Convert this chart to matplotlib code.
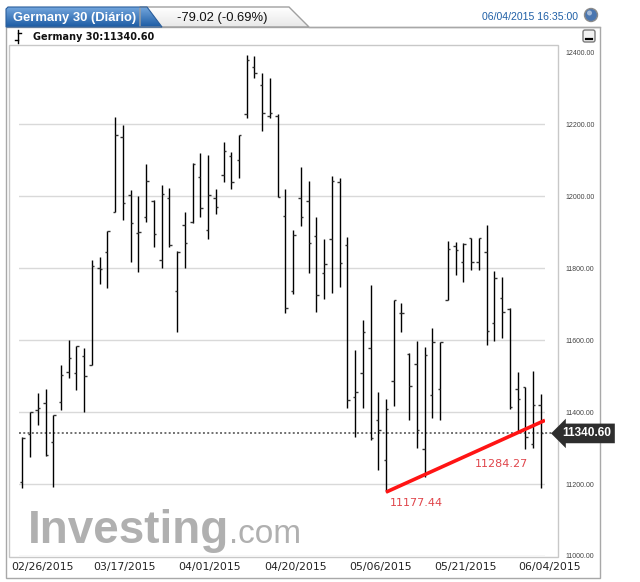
import matplotlib
matplotlib.use('Agg')
import matplotlib.pyplot as plt
import matplotlib.patches as mpatches
import matplotlib.transforms as mtransforms
from matplotlib import font_manager
import numpy as np

# daily OHLC, Germany 30
dates = ['02/26/2015', '02/27/2015', '03/02/2015', '03/03/2015', '03/04/2015', '03/05/2015',
         '03/06/2015', '03/09/2015', '03/10/2015', '03/11/2015', '03/12/2015', '03/13/2015',
         '03/16/2015', '03/17/2015', '03/18/2015', '03/19/2015', '03/20/2015', '03/23/2015',
         '03/24/2015', '03/25/2015', '03/26/2015', '03/27/2015', '03/30/2015', '03/31/2015',
         '04/01/2015', '04/02/2015', '04/07/2015', '04/08/2015', '04/09/2015', '04/10/2015',
         '04/13/2015', '04/14/2015', '04/15/2015', '04/16/2015', '04/17/2015', '04/20/2015',
         '04/21/2015', '04/22/2015', '04/23/2015', '04/24/2015', '04/27/2015', '04/28/2015',
         '04/29/2015', '04/30/2015', '05/04/2015', '05/05/2015', '05/06/2015', '05/07/2015',
         '05/08/2015', '05/11/2015', '05/12/2015', '05/13/2015', '05/14/2015', '05/15/2015',
         '05/18/2015', '05/19/2015', '05/20/2015', '05/21/2015', '05/22/2015', '05/25/2015',
         '05/26/2015', '05/27/2015', '05/28/2015', '05/29/2015', '06/01/2015', '06/02/2015',
         '06/03/2015', '06/04/2015']
opens = [11206, 11338, 11407, 11424, 11316, 11427, 11512, 11509, 11556, 11531, 11799, 11845,
         11957, 12165, 12003, 11898, 11943, 11987, 11822, 11996, 11736, 11921, 11929, 12054,
         11906, 11994, 12058, 12111, 12100, 12228, 12359, 12308, 12222, 12222, 11944, 11737,
         11996, 11987, 11888, 11786, 11882, 12038, 11865, 11441, 11508, 11577, 11377, 11268,
         11485, 11675, 11561, 11533, 11298, 11448, 11465, 11710, 11860, 11817, 11883, 11817,
         11844, 11647, 11717, 11687, 11465, 11469, 11310, 11420]
highs = [11330, 11401, 11454, 11464, 11392, 11532, 11600, 11584, 11577, 11822, 11830, 11904,
         12220, 12197, 12017, 12001, 12089, 11989, 12031, 12023, 11848, 11955, 12091, 12120,
         12114, 12019, 12149, 12123, 12169, 12392, 12389, 12341, 12327, 12228, 12019, 11905,
         12081, 12043, 11942, 11882, 12055, 12050, 11886, 11571, 11657, 11752, 11456, 11437,
         11712, 11703, 11564, 11598, 11581, 11633, 11594, 11874, 11872, 11869, 11883, 11883,
         11920, 11791, 11774, 11689, 11511, 11469, 11515, 11450]
lows = [11188, 11276, 11364, 11278, 11193, 11407, 11495, 11461, 11401, 11531, 11756, 11745,
        11957, 11933, 11816, 11788, 11927, 11859, 11799, 11859, 11621, 11801, 11926, 11943,
        11882, 11949, 12038, 12019, 12049, 12216, 12329, 12181, 12216, 11998, 11675, 11728,
        11916, 11786, 11677, 11714, 11731, 11747, 11411, 11331, 11411, 11323, 11240, 11177.44,
        11416, 11621, 11379, 11301, 11219, 11383, 11379, 11710, 11782, 11760, 11794, 11794,
        11587, 11596, 11607, 11409, 11346, 11297, 11300, 11189]
closes = [11327, 11401, 11410, 11281, 11392, 11503, 11551, 11584, 11500, 11807, 11797, 11904,
          12170, 11982, 11924, 11899, 12042, 11896, 12007, 11864, 11845, 11869, 12089, 11968,
          12003, 11969, 12125, 12038, 12169, 12378, 12341, 12230, 12232, 11998, 11689, 11893,
          11942, 11869, 11724, 11812, 12041, 11814, 11434, 11455, 11621, 11328, 11351, 11408,
          11710, 11675, 11473, 11351, 11559, 11594, 11594, 11854, 11851, 11867, 11817, 11883,
          11626, 11772, 11678, 11414, 11436, 11330, 11419.62, 11340.60]

trend_idx = [47, 58]
trend_vals = [11177.44, 11284.27]
last_price = 11340.60
yticks = [11000, 11200, 11400, 11600, 11800, 12000, 12200, 12400]
date_ticks = [0, 13, 24, 35, 46, 57, 67]

W, H = 640, 582
fig = plt.figure(figsize=(6.4, 5.82), dpi=100)

names = {f.name for f in font_manager.fontManager.ttflist}
narrow = 'Liberation Sans Narrow' if 'Liberation Sans Narrow' in names else 'Liberation Sans'
nscale = 1.0 if narrow == 'Liberation Sans Narrow' else 0.85

# background layer in pixel coords
bg = fig.add_axes([0, 0, 1, 1])
bg.set_xlim(0, W)
bg.set_ylim(H, 0)
bg.axis('off')

bg.add_patch(mpatches.Rectangle((6, 27), 594, 551, fc='white', ec='#a8a8a8', lw=1))
bg.add_patch(mpatches.Rectangle((9, 45), 549, 512, fc='white', ec='#c8c8c8', lw=1))

# soft shading along left / top of plot area
pw, ph = 526, 510
xs = np.arange(pw)
ys = np.arange(ph)
alpha = 0.13 * np.maximum(np.exp(-xs / 4.0)[None, :], np.exp(-ys / 6.0)[:, None])
shade = np.zeros((ph, pw, 4))
shade[..., :3] = 0.55
shade[..., 3] = alpha
bg.imshow(shade, extent=[19, 545, 556, 46], aspect='auto', interpolation='bilinear')

# tabs
grad = np.linspace(0, 1, 50)[:, None]
gray_tab = mpatches.Polygon([(140, 27), (140, 7), (289, 7), (309, 27)], closed=True,
                            fc='none', ec='#a0a0a0', lw=1)
bg.add_patch(gray_tab)
im = bg.imshow(np.dstack([1 - 0.09 * grad, 1 - 0.09 * grad, 1 - 0.09 * grad]),
               extent=[140, 309, 27, 7], aspect='auto')
im.set_clip_path(gray_tab)
blue_tab = mpatches.Polygon([(6, 27), (6, 9), (8, 7), (147, 7), (162, 27)], closed=True,
                            fc='none', ec='#2a5e9c', lw=0.8)
bg.add_patch(blue_tab)
top_c = np.array([0.45, 0.65, 0.87])
bot_c = np.array([0.11, 0.36, 0.64])
blue = top_c[None, None, :] * (1 - grad[..., None]) + bot_c[None, None, :] * grad[..., None]
im2 = bg.imshow(blue, extent=[6, 162, 27, 7], aspect='auto')
im2.set_clip_path(blue_tab)
bg.plot([309, 600], [27, 27], color='#a8a8a8', lw=1)

bg.text(13, 17.5, 'Germany 30 (Diário)', color='white', fontsize=11 * nscale,
        family=narrow, weight='bold', ha='left', va='center')
bg.text(177, 17.5, '-79.02 (-0.69%)', color='#111111', fontsize=11 * nscale,
        family=narrow, ha='left', va='center')
bg.text(578, 17, '06/04/2015 16:35:00', color='#1f5fa6', fontsize=7.6,
        family='Liberation Sans', ha='right', va='center')
bg.add_patch(mpatches.Circle((591, 15), 6.5, fc='#4a76b0', ec='#8a8a8a', lw=1))
bg.add_patch(mpatches.Circle((589.5, 13), 2.5, fc='white', ec='none', alpha=0.5))

# second row
bg.plot([18, 18], [30, 43], color='black', lw=1)
bg.plot([15, 18], [40, 40], color='black', lw=1)
bg.plot([18, 21], [33, 33], color='black', lw=1)
bg.text(33, 37, 'Germany 30:11340.60', fontsize=7, weight='bold', family='DejaVu Sans',
        color='#111111', ha='left', va='center')
bg.add_patch(mpatches.FancyBboxPatch((583, 30), 12, 12, boxstyle='round,pad=0,rounding_size=2',
                                     fc='#f2f2f2', ec='#7a7a7a', lw=1))
bg.plot([586, 592], [38.5, 38.5], color='black', lw=1.6)

# watermark
bg.text(28, 543, 'Investing', fontsize=33, weight='bold', family='Liberation Sans',
        color='#b0b0b0', ha='left', va='baseline')
bg.text(229, 543, '.com', fontsize=24, family='Liberation Sans',
        color='#b0b0b0', ha='left', va='baseline')

# price panel
ax = fig.add_axes([19 / W, 1 - 556 / H, 526 / W, 510 / H])
ax.patch.set_visible(False)
for s in ax.spines.values():
    s.set_visible(False)

idx = np.arange(len(opens))
ax.vlines(idx, lows, highs, color='black', lw=1.0, zorder=3)
ax.hlines(opens, idx - 0.32, idx, color='#333333', lw=1.0, zorder=3)
ax.hlines(closes, idx, idx + 0.32, color='#333333', lw=1.0, zorder=3)

xl = (-0.43, 67.55)
ax.set_xlim(xl)
ax.set_ylim(11000, 12417)

ax.axhline(last_price, xmin=0, xmax=1.015, color='#707070', ls=(0, (1, 1.2)), lw=1.4,
           clip_on=False, zorder=2)

slope = (trend_vals[1] - trend_vals[0]) / (trend_idx[1] - trend_idx[0])
ax.plot([trend_idx[0], xl[1]], [trend_vals[0], trend_vals[0] + slope * (xl[1] - trend_idx[0])],
        color='#ff1414', lw=2.6, solid_capstyle='butt', zorder=4)
for i, v in zip(trend_idx, trend_vals):
    ax.annotate(f'{v:.2f}', xy=(i, v), xytext=(2.5, -4), textcoords='offset points',
                ha='left', va='top', color='#e0454b', fontsize=8, family='DejaVu Sans')

blend = mtransforms.blended_transform_factory(ax.transAxes, ax.transData)
ax.text(1 + 17 / 526, last_price, f'{last_price:.2f}', transform=blend, ha='left', va='center',
        color='white', fontsize=8.6, weight='bold', family='Liberation Sans', clip_on=False,
        zorder=6, bbox=dict(boxstyle='larrow,pad=0.32', fc='#2e2e2e', ec='none'))

ax.set_yticks(yticks)
ax.set_yticklabels([f'{v:.2f}' for v in yticks], family='Liberation Sans')
ax.yaxis.tick_right()
ax.tick_params(axis='y', length=0, pad=15, labelsize=5, labelcolor='#444444')
ax.grid(axis='y', color='#d9d9d9', lw=1)
ax.get_ygridlines()[-1].set_visible(False)
ax.set_axisbelow(True)

ax.set_xticks(date_ticks)
ax.set_xticklabels([dates[i] for i in date_ticks], family='DejaVu Sans')
ax.tick_params(axis='x', length=0, pad=4, labelsize=7.8, labelcolor='#222222')
shifts = [20, 2, 2, 2, 2, 2, 9]
for lab, dx in zip(ax.get_xticklabels(), shifts):
    lab.set_transform(lab.get_transform() + mtransforms.ScaledTranslation(dx / 100, 0, fig.dpi_scale_trans))

fig.savefig('out.png', dpi=100)
